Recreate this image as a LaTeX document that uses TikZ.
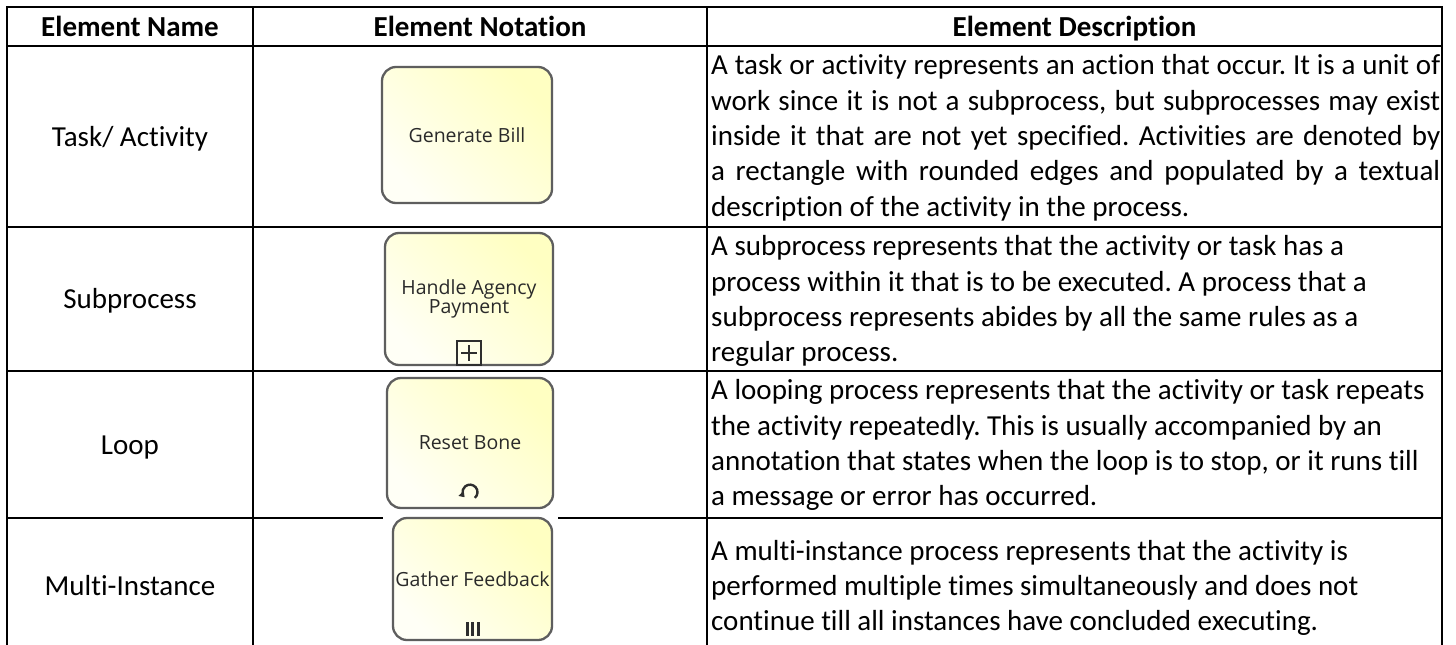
\documentclass[tikz,border=0pt]{standalone}
\usepackage{fontspec}
\setmainfont{Carlito}[Ligatures=NoCommon]
\newfontfamily\taskfont{Open Sans}
\usetikzlibrary{arrows.meta,calc}
\frenchspacing

\definecolor{taskline}{HTML}{5E5E5E}
\definecolor{taskfillA}{HTML}{FFFFF6}
\definecolor{taskfillB}{HTML}{FFFFC2}
\definecolor{tasktext}{HTML}{2A2A2A}
\definecolor{markcol}{HTML}{2E2E2E}

\tikzset{
  tblrule/.style={line width=2pt, draw=black, line cap=rect},
  hdr/.style={font={\fontsize{29}{35.4}\selectfont\bfseries}, inner sep=0pt, anchor=base},
  rowname/.style={font={\fontsize{29}{35.4}\selectfont}, inner sep=0pt, anchor=base},
  descline/.style={font={\fontsize{29}{35.4}\selectfont}, inner sep=0pt, anchor=base west},
  taskbox/.style={draw=taskline, line width=2.3pt, rounded corners=14pt,
    left color=taskfillA, right color=taskfillB, shading angle=135,
    inner sep=0pt, align=center, text=tasktext,
    font={\taskfont\fontsize{19.5}{18.5}\selectfont}},
  markline/.style={draw=markcol, line width=2pt},
}

\begin{document}
\begin{tikzpicture}[x=1pt, y=-1pt]
\useasboundingbox (0,0) rectangle (1456,645);
\fill[white] (0,0) rectangle (1456,645);

% table rules (the table continues below the lower edge)
\foreach \yy in {7,46,227,371,518}
  \draw[tblrule] (7,\yy) -- (1442,\yy);
\foreach \xx in {7,253,707,1442}
  \draw[tblrule] (\xx,7) -- (\xx,650);

% header
\node[hdr] (hname) at (130,36.9) {Element Name};
\node[hdr] (hnote) at (480,36.9) {Element Notation};
\node[hdr] (hdesc) at (1074.5,36.9) {Element Description};

% element names
\node[rowname] (ntask) at (130,146.4) {Task/ Activity};
\node[rowname] (nsub)  at (130,308.9) {Subprocess};
\node[rowname] (nloop) at (130,454.4) {Loop};
\node[rowname] (nmulti) at (130,595) {Multi-Instance};

% descriptions
\node[descline] (d11) at (711,74.6)  {\makebox[729pt][s]{A task or activity represents an action that occur. It is a unit of}};
\node[descline] (d12) at (711,110)   {\makebox[729pt][s]{work since it is not a subprocess, but subprocesses may exist}};
\node[descline] (d13) at (711,145.4) {\makebox[729pt][s]{inside it that are not yet specified. Activities are denoted by}};
\node[descline] (d14) at (711,180.8) {\makebox[729pt][s]{a rectangle with rounded edges and populated by a textual}};
\node[descline] (d15) at (711,216.2) {description of the activity in the process.};

\node[descline] (d21) at (711,255.6) {A subprocess represents that the activity or task has a};
\node[descline] (d22) at (711,291)   {process within it that is to be executed. A process that a};
\node[descline] (d23) at (711,326.4) {subprocess represents abides by all the same rules as a};
\node[descline] (d24) at (711,361.8) {regular process.};

\node[descline] (d31) at (711,399.6) {A looping process represents that the activity or task repeats};
\node[descline] (d32) at (711,435)   {the activity repeatedly. This is usually accompanied by an};
\node[descline] (d33) at (711,470.4) {annotation that states when the loop is to stop, or it runs till};
\node[descline] (d34) at (711,505.8) {a message or error has occurred.};

\node[descline] (d41) at (711,560)   {A multi-instance process represents that the activity is};
\node[descline] (d42) at (711,595.4) {performed multiple times simultaneously and does not};
\node[descline] (d43) at (711,630.8) {continue till all instances have concluded executing.};

% task notation shapes
\node[taskbox, minimum width=170pt, minimum height=136pt] (t1) at (467,135) {Generate Bill};
\node[taskbox, minimum width=168pt, minimum height=132pt] (t2) at (469,299) {Handle Agency\\Payment};
\node[taskbox, minimum width=166pt, minimum height=130pt] (t3) at (470,443) {Reset Bone};
\fill[white] (383,516) rectangle (558,645);
\node[taskbox, minimum width=159pt, minimum height=122pt] (t4) at (472.5,579) {Gather Feedback};

% subprocess marker
\node[markline, minimum size=24pt, inner sep=0pt, anchor=south] (plus) at (t2.south) {};
\draw[markline] ($(plus.center)+(-8,0)$) -- ($(plus.center)+(8,0)$);
\draw[markline] ($(plus.center)+(0,-8)$) -- ($(plus.center)+(0,8)$);

% loop marker
\coordinate (loopc) at ($(t3.south)+(0,-17)$);
\begin{scope}[shift={(loopc)}, y=1pt]
  \draw[markline, line width=2.4pt, -{Triangle[length=5pt,width=7pt]}] (-50:7.5) arc[start angle=-50, end angle=222, radius=7.5];
\end{scope}

% multi-instance marker
\coordinate (mic) at ($(t4.south)+(0,-12)$);
\foreach \dx in {-5.5,0,5.5}
  \fill[markcol] ($(mic)+(\dx-1.5,-7)$) rectangle ($(mic)+(\dx+1.5,7)$);
\end{tikzpicture}
\end{document}
